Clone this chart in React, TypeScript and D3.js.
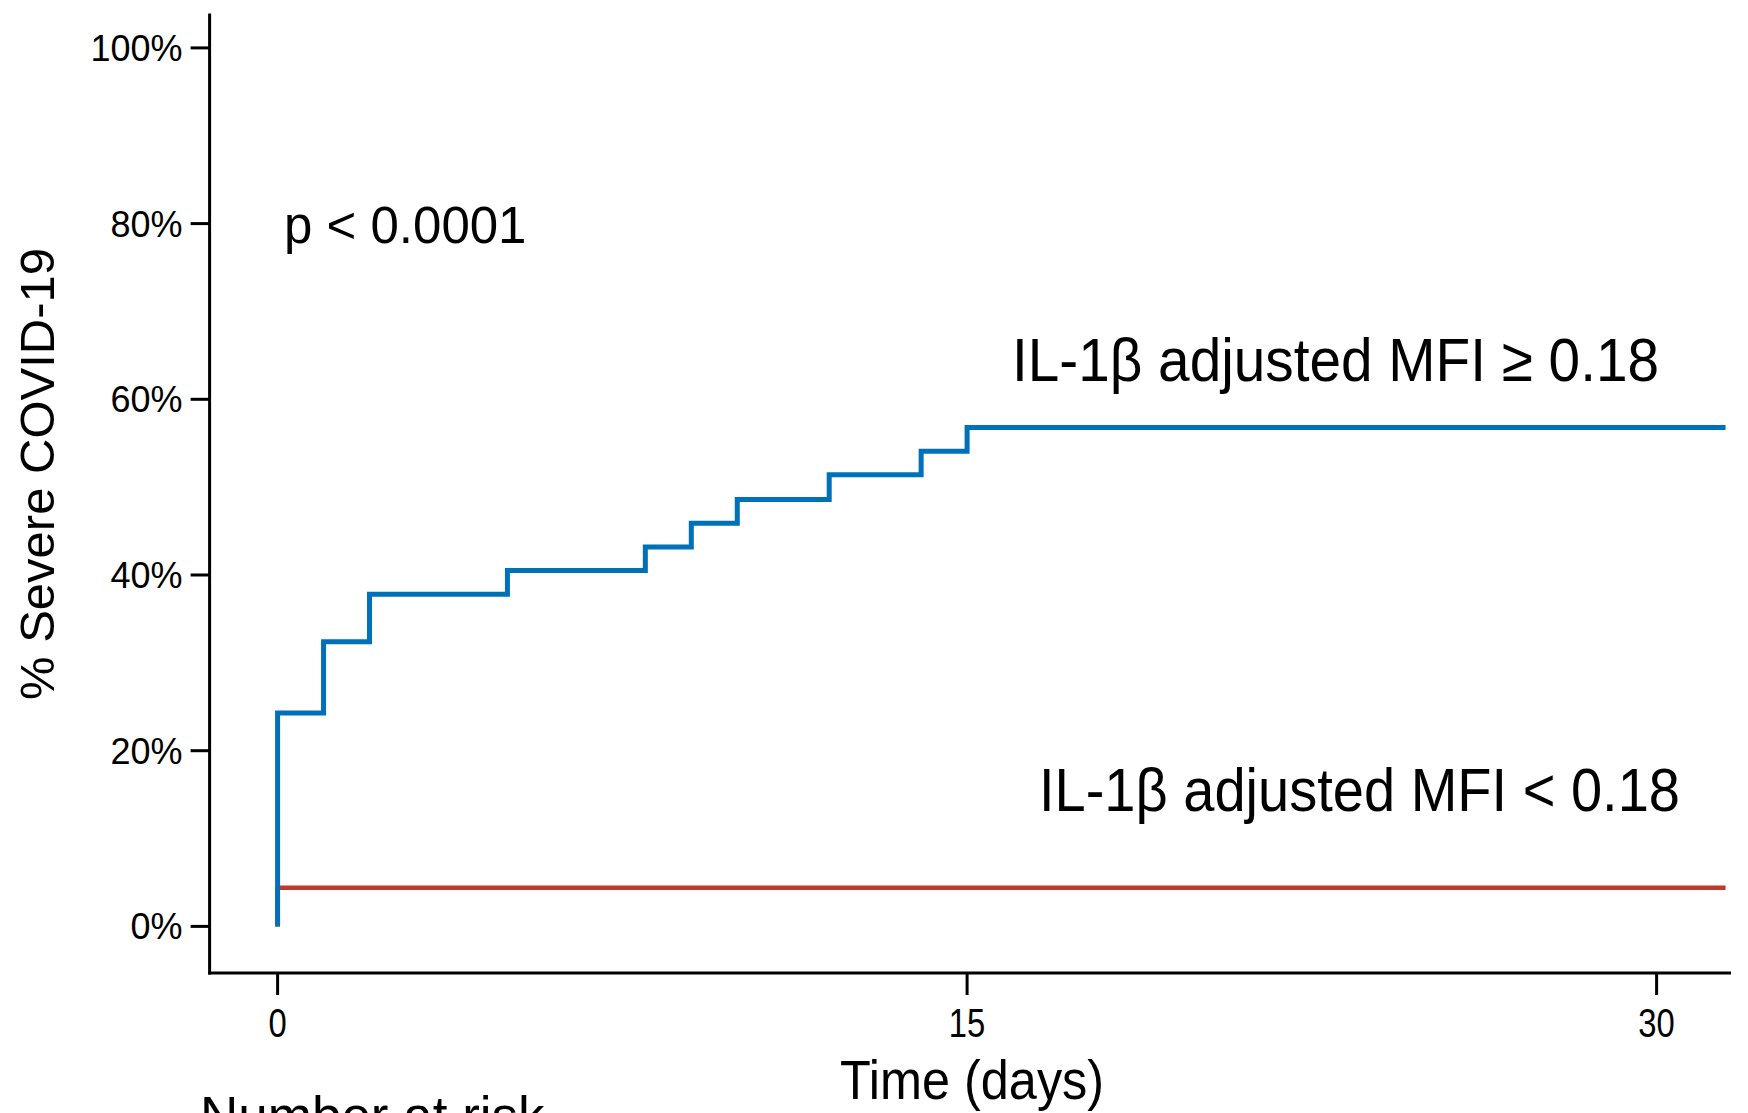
import React from "react";
import * as d3 from "d3";

// Cumulative incidence of severe COVID-19 (%) by day, per IL-1β group
const highTimes = [0, 1, 2, 5, 8, 9, 10, 12, 14, 15];
const highPct = [24.3, 32.4, 37.8, 40.5, 43.2, 45.9, 48.6, 51.4, 54.1, 56.8];
const lowTimes = [0];
const lowPct = [4.4];
const followUpEnd = 31.5;

const xTicks = [0, 15, 30];
const yTicks = [0, 20, 40, 60, 80, 100];

const highLabel = "IL-1\u03b2 adjusted MFI \u2265 0.18";
const lowLabel = "IL-1\u03b2 adjusted MFI < 0.18";
const pLabel = "p < 0.0001";

const W = 1748;
const H = 1113;
const FONT = "'Liberation Sans', Arial, Helvetica, sans-serif";
const BLUE = "#0071B9";
const RED = "#C0392B";

export default function App() {
  const x = d3.scaleLinear().domain([0, 30]).range([277.6, 1656.6]);
  const y = d3.scaleLinear().domain([0, 100]).range([926.4, 47.9]);

  const axisLeft = 209.6;
  const axisBottom = 973;
  const axisTop = 13.4;
  const axisRight = 1731;

  const stepLine = d3
    .line<[number, number]>()
    .x((d) => x(d[0]))
    .y((d) => y(d[1]))
    .curve(d3.curveStepAfter);

  const buildSteps = (times: number[], pct: number[]): [number, number][] => {
    const pts: [number, number][] = [[0, 0]];
    times.forEach((t, i) => pts.push([t, pct[i]]));
    pts.push([followUpEnd, pct[pct.length - 1]]);
    return pts;
  };

  const highPath = stepLine(buildSteps(highTimes, highPct)) || "";
  const lowPath = stepLine(buildSteps(lowTimes, lowPct)) || "";

  return (
    <svg
      width={W}
      height={H}
      style={{ position: "absolute", left: 0, top: 0, background: "#fff" }}
      fontFamily={FONT}
    >
      <rect x={0} y={0} width={W} height={H} fill="#fff" />

      {/* axes */}
      <line x1={axisLeft} y1={axisTop} x2={axisLeft} y2={axisBottom + 1.5} stroke="#000" strokeWidth={3} />
      <line x1={axisLeft - 1.5} y1={axisBottom} x2={axisRight} y2={axisBottom} stroke="#000" strokeWidth={3} />

      {yTicks.map((t) => (
        <g key={"y" + t}>
          <line x1={axisLeft - 19} x2={axisLeft} y1={y(t)} y2={y(t)} stroke="#000" strokeWidth={3} />
          <text
            x={axisLeft - 27}
            y={y(t)}
            dy="0.36em"
            textAnchor="end"
            fontSize={36}
            fill="#000"
          >
            {t + "%"}
          </text>
        </g>
      ))}

      {xTicks.map((t) => (
        <g key={"x" + t}>
          <line x1={x(t)} x2={x(t)} y1={axisBottom} y2={axisBottom + 22} stroke="#000" strokeWidth={3} />
          <text
            transform={`translate(${x(t)},${1037}) scale(0.82,1)`}
            textAnchor="middle"
            fontSize={40}
            fill="#000"
          >
            {String(t)}
          </text>
        </g>
      ))}

      {/* axis titles */}
      <text
        transform={`translate(54,474) rotate(-90)`}
        textAnchor="middle"
        fontSize={49}
        fill="#000"
      >
        % Severe COVID-19
      </text>
      <text
        transform={`translate(972,1099) scale(0.9,1)`}
        textAnchor="middle"
        fontSize={56}
        fill="#000"
      >
        Time (days)
      </text>
      <text x={200} y={1134} fontSize={53} fill="#000">
        Number at risk
      </text>

      {/* survival curves */}
      <path d={lowPath} fill="none" stroke={RED} strokeWidth={4.5} />
      <path d={highPath} fill="none" stroke={BLUE} strokeWidth={5} />

      {/* annotations */}
      <text x={284} y={243} fontSize={51} fill="#000">
        {pLabel}
      </text>
      <text
        x={1012}
        y={381}
        fontSize={62}
        fill="#000"
        textLength={647}
        lengthAdjust="spacingAndGlyphs"
      >
        {highLabel}
      </text>
      <text
        x={1039}
        y={811}
        fontSize={62}
        fill="#000"
        textLength={641}
        lengthAdjust="spacingAndGlyphs"
      >
        {lowLabel}
      </text>
    </svg>
  );
}
